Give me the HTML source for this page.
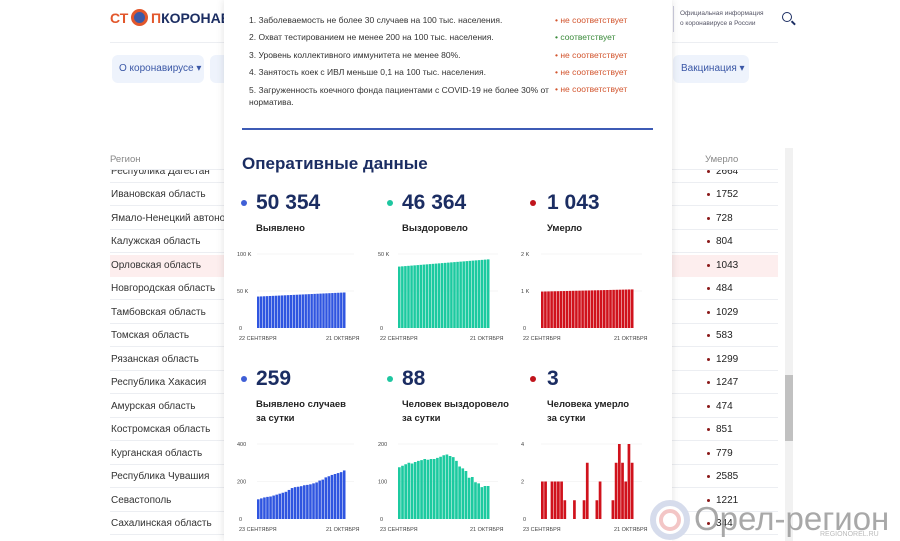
<!DOCTYPE html>
<html><head><meta charset="utf-8"><style>
*{margin:0;padding:0;box-sizing:border-box}
body{width:900px;height:541px;overflow:hidden;background:#fff;font-family:"Liberation Sans","Noto Sans CJK SC",sans-serif;position:relative;color:#222}
.a{position:absolute;white-space:nowrap}
.row{position:absolute;left:110px;width:668px;height:23px;border-bottom:1px solid #eceef2;font-size:10px;color:#333}
.row span{position:absolute;left:1px;top:6px}
.row b{position:absolute;left:606px;top:6px;font-weight:normal;color:#222}
.row b:before{content:"";position:absolute;left:-9px;top:4px;width:3px;height:3px;border-radius:50%;background:#8b1a1a}
.panel{position:absolute;left:224px;top:0;width:448px;height:541px;background:#fff;box-shadow:0 0 8px rgba(0,0,0,.12)}
.crit{position:absolute;left:25px;font-size:8.5px;color:#333}
.st{position:absolute;left:331px;font-size:8.5px;color:#d2542d}
.st:before{content:"• ";}
.num{position:absolute;font-size:21px;font-weight:bold;color:#1b2d62}
.dot{position:absolute;width:6px;height:6px;border-radius:50%}
.lab{position:absolute;font-size:9.5px;font-weight:bold;color:#222;line-height:14px}
</style></head><body>
<div class="a" style="left:110px;top:10px;font-size:14px;font-weight:bold;color:#e2572c">СТ</div>
<div class="a" style="left:131px;top:9px;width:17px;height:17px;border-radius:50%;border:3px solid #e2572c;background:#3b5aa8"></div>
<div class="a" style="left:151px;top:10px;font-size:14px;font-weight:bold;color:#e2572c">П<span style="color:#1b2d62">КОРОНАВИ</span></div>
<div class="a" style="left:110px;top:42px;width:668px;height:1px;background:#eceef2"></div>
<div class="a" style="left:112px;top:55px;width:92px;height:28px;background:#eef3fc;border-radius:6px;font-size:10px;color:#3a57a6;padding:8px 7px">О коронавирусе ▾</div>
<div class="a" style="left:210px;top:55px;width:30px;height:28px;background:#eef3fc;border-radius:6px"></div>
<div class="a" style="left:673px;top:55px;width:76px;height:28px;background:#eef3fc;border-radius:6px;font-size:10px;color:#3a57a6;padding:8px 8px">Вакцинация ▾</div>
<div class="a" style="left:673px;top:6px;width:1px;height:26px;background:#ccd"></div>
<div class="a" style="left:680px;top:9px;font-size:6.5px;color:#556;line-height:10px">Официальная информация<br>о коронавирусе в России</div>
<div class="a" style="left:782px;top:12px;width:10px;height:10px;border:1.5px solid #1b2d62;border-radius:50%"></div>
<div class="a" style="left:791px;top:22px;width:5px;height:1.5px;background:#1b2d62;transform:rotate(45deg)"></div>
<div class="a" style="left:110px;top:255px;width:668px;height:22px;background:#fdeeee"></div>
<div class="row" style="top:160px"><span>Республика Дагестан</span><b>2664</b></div>
<div class="row" style="top:183px"><span>Ивановская область</span><b>1752</b></div>
<div class="row" style="top:207px"><span>Ямало-Ненецкий автоном</span><b>728</b></div>
<div class="row" style="top:230px"><span>Калужская область</span><b>804</b></div>
<div class="row" style="top:254px;border:none"><span>Орловская область</span><b>1043</b></div>
<div class="row" style="top:277px"><span>Новгородская область</span><b>484</b></div>
<div class="row" style="top:301px"><span>Тамбовская область</span><b>1029</b></div>
<div class="row" style="top:324px"><span>Томская область</span><b>583</b></div>
<div class="row" style="top:348px"><span>Рязанская область</span><b>1299</b></div>
<div class="row" style="top:371px"><span>Республика Хакасия</span><b>1247</b></div>
<div class="row" style="top:395px"><span>Амурская область</span><b>474</b></div>
<div class="row" style="top:418px"><span>Костромская область</span><b>851</b></div>
<div class="row" style="top:442px"><span>Курганская область</span><b>779</b></div>
<div class="row" style="top:465px"><span>Республика Чувашия</span><b>2585</b></div>
<div class="row" style="top:489px"><span>Севастополь</span><b>1221</b></div>
<div class="row" style="top:512px"><span>Сахалинская область</span><b>344</b></div>
<div class="a" style="left:110px;top:140px;width:668px;height:30px;background:#fff;border-bottom:1px solid #eceef2"></div>
<div class="a" style="left:110px;top:154px;font-size:9.5px;color:#888">Регион</div>
<div class="a" style="left:705px;top:154px;font-size:9.5px;color:#888">Умерло</div>
<div class="a" style="left:785px;top:148px;width:8px;height:393px;background:#f1f1f1"></div>
<div class="a" style="left:785px;top:375px;width:8px;height:66px;background:#c1c1c1"></div>

<div class="panel">
<div class="crit" style="top:15px">1. Заболеваемость не более 30 случаев на 100 тыс. населения.</div>
<div class="crit" style="top:32px">2. Охват тестированием не менее 200 на 100 тыс. населения.</div>
<div class="crit" style="top:50px">3. Уровень коллективного иммунитета не менее 80%.</div>
<div class="crit" style="top:67px">4. Занятость коек с ИВЛ меньше 0,1 на 100 тыс. населения.</div>
<div class="crit" style="top:84px;line-height:12px">5. Загруженность коечного фонда пациентами с COVID-19 не более 30% от<br>норматива.</div>
<div class="st" style="top:15px">не соответствует</div>
<div class="st" style="top:32px;color:#3a8a3a">соответствует</div>
<div class="st" style="top:50px">не соответствует</div>
<div class="st" style="top:67px">не соответствует</div>
<div class="st" style="top:84px">не соответствует</div>
<div class="a" style="left:18px;top:128px;width:411px;height:2px;background:#3d5bb5"></div>
<div class="a" style="left:18px;top:154px;font-size:17px;font-weight:bold;color:#1b2d62">Оперативные данные</div>
<div class="dot" style="left:17px;top:200px;background:#3f5fd6"></div><div class="num" style="left:32px;top:191px">50 354</div>
<div class="dot" style="left:163px;top:200px;background:#1ec6a0"></div><div class="num" style="left:178px;top:191px">46 364</div>
<div class="dot" style="left:306px;top:200px;background:#c0141c"></div><div class="num" style="left:323px;top:191px">1 043</div>
<div class="lab" style="left:32px;top:222px">Выявлено</div>
<div class="lab" style="left:178px;top:222px">Выздоровело</div>
<div class="lab" style="left:323px;top:222px">Умерло</div>
<div class="dot" style="left:17px;top:376px;background:#3f5fd6"></div><div class="num" style="left:32px;top:367px">259</div>
<div class="dot" style="left:163px;top:376px;background:#1ec6a0"></div><div class="num" style="left:178px;top:367px">88</div>
<div class="dot" style="left:306px;top:376px;background:#c0141c"></div><div class="num" style="left:323px;top:367px">3</div>
<div class="lab" style="left:32px;top:398px">Выявлено случаев<br>за сутки</div>
<div class="lab" style="left:178px;top:398px">Человек выздоровело<br>за сутки</div>
<div class="lab" style="left:323px;top:398px">Человека умерло<br>за сутки</div>
<svg id="s" class="a" style="left:0;top:0" width="448" height="541" font-family="Liberation Sans" font-size="5.5" fill="#444"></svg>
</div>
<div class="a" style="left:650px;top:500px;width:40px;height:40px;border-radius:50%;border:6px solid #d6dcec;background:#fff"></div>
<div class="a" style="left:659px;top:509px;width:22px;height:22px;border-radius:50%;border:4px solid #f3c6c6"></div>
<div class="a" style="left:694px;top:500px;font-size:33px;color:#9a9a9a;opacity:.85">Орел-регион</div>
<div class="a" style="left:820px;top:531px;font-size:7px;color:#bbb">REGIONOREL.RU</div>
<script>
var s=document.getElementById('s'),h='';
function chart(x0,x1,top,bot,labs,col,vals,max,d1){
 var mid=(top+bot)/2;
 h+='<line x1="'+x0+'" x2="'+(x1+8)+'" y1="'+top+'" y2="'+top+'" stroke="#eee" stroke-width="0.6"/>';
 h+='<line x1="'+x0+'" x2="'+(x1+8)+'" y1="'+mid+'" y2="'+mid+'" stroke="#eee" stroke-width="0.6"/>';
 h+='<text x="'+(x0-20)+'" y="'+(top+2)+'">'+labs[0]+'</text><text x="'+(x0-20)+'" y="'+(mid+2)+'">'+labs[1]+'</text><text x="'+(x0-18)+'" y="'+(bot+2)+'">0</text>';
 var n=vals.length,w=(x1-x0)/n;
 for(var i=0;i<n;i++){var hh=(bot-top)*vals[i]/max;if(hh<=0)continue;
  h+='<rect x="'+(x0+i*w).toFixed(2)+'" y="'+(bot-hh).toFixed(2)+'" width="'+(w-0.5).toFixed(2)+'" height="'+hh.toFixed(2)+'" fill="'+col+'"/>';}
 h+='<text x="'+(x0-18)+'" y="'+(bot+12)+'">'+d1+' СЕНТЯБРЯ</text><text x="'+(x1-20)+'" y="'+(bot+12)+'">21 ОКТЯБРЯ</text>';
}
function lin(a,b,n){var r=[];for(var i=0;i<n;i++)r.push(a+(b-a)*i/(n-1));return r}
var x=-224;
chart(257+x,346+x,254,328,['100 K','50 K'],'#2f55e0',lin(42500,48000,30),100000,22);
chart(398+x,490+x,254,328,['50 K',''],'#1ccaa0',lin(41500,46364,30),50000,22);
chart(541+x,634+x,254,328,['2 K','1 K'],'#d0121c',lin(985,1043,30),2000,22);
chart(257+x,346+x,444,519,['400','200'],'#2f55e0',[105,110,115,118,120,125,130,135,140,145,155,165,170,172,175,180,182,185,190,195,205,210,222,228,235,240,245,250,259],400,23);
chart(398+x,490+x,444,519,['200','100'],'#1ccaa0',[138,142,146,150,148,152,155,157,160,158,160,160,163,166,170,172,168,165,155,140,135,128,110,112,98,95,85,88,88],200,23);
chart(541+x,634+x,444,519,['4','2'],'#d0121c',[2,2,0,2,2,2,2,1,0,0,1,0,0,1,3,0,0,1,2,0,0,0,1,3,4,3,2,4,3],4,23);
s.innerHTML=h;
</script>
</body></html>
